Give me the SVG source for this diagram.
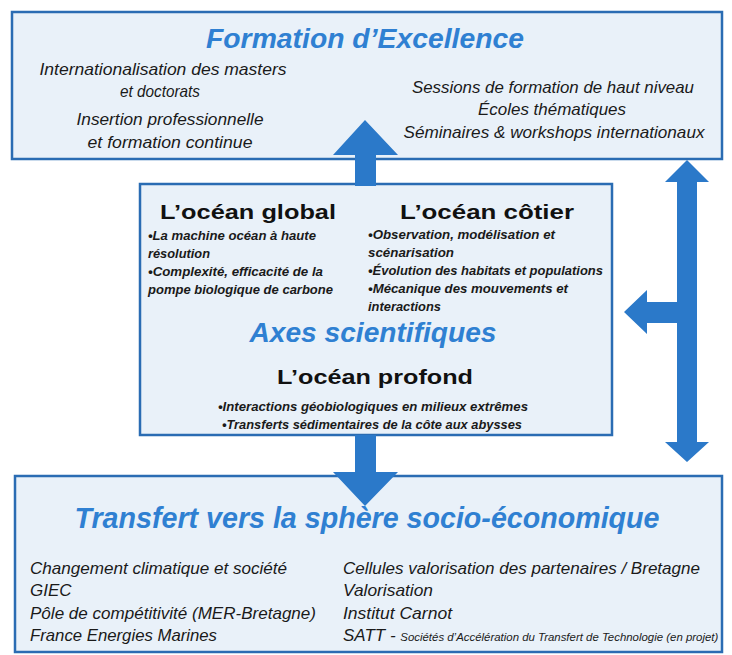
<svg xmlns="http://www.w3.org/2000/svg" width="732" height="655" viewBox="0 0 732 655">
<style>
.box{fill:#e9f1f9;stroke:#2a6cb3;stroke-width:2.5}
.arrow{fill:#2b79c9}
.title{font-family:"Liberation Sans",Arial,sans-serif;font-weight:bold;font-style:italic;fill:#2f80d2;text-anchor:middle}
.it{font-family:"Liberation Sans",Arial,sans-serif;font-style:italic;fill:#1a1a1a;font-size:17px}
.c{text-anchor:middle}
.head{font-family:"Liberation Sans",Arial,sans-serif;font-weight:bold;fill:#111;font-size:21px;text-anchor:middle}
.bul{font-family:"Liberation Sans",Arial,sans-serif;font-weight:bold;font-style:italic;fill:#1a1a1a;font-size:13px}
</style>
<rect width="732" height="655" fill="#ffffff"/>
<g id="formation">
<rect class="box" x="12" y="12" width="710" height="147"/>
<text class="title" x="365" y="48" font-size="27" textLength="318" lengthAdjust="spacingAndGlyphs">Formation d’Excellence</text>
<text class="it c" x="163" y="75" textLength="247" lengthAdjust="spacingAndGlyphs">Internationalisation des masters</text>
<text class="it c" x="160" y="97" textLength="80" lengthAdjust="spacingAndGlyphs">et doctorats</text>
<text class="it c" x="170" y="125" textLength="187" lengthAdjust="spacingAndGlyphs">Insertion professionnelle</text>
<text class="it c" x="170" y="148" textLength="165" lengthAdjust="spacingAndGlyphs">et formation continue</text>
<text class="it c" x="553" y="93" textLength="282" lengthAdjust="spacingAndGlyphs">Sessions de formation de haut niveau</text>
<text class="it c" x="552" y="115" textLength="148" lengthAdjust="spacingAndGlyphs">Écoles thématiques</text>
<text class="it c" x="554" y="138" textLength="301" lengthAdjust="spacingAndGlyphs">Séminaires &amp; workshops internationaux</text>
</g>
<g id="axes">
<rect class="box" x="140" y="184" width="472" height="251"/>
<text class="head" x="248" y="219" textLength="176" lengthAdjust="spacingAndGlyphs">L’océan global</text>
<text class="head" x="487" y="219" textLength="174" lengthAdjust="spacingAndGlyphs">L’océan côtier</text>
<text class="bul" x="148" y="240" textLength="168" lengthAdjust="spacingAndGlyphs">•La machine océan à haute</text>
<text class="bul" x="148" y="258" textLength="62" lengthAdjust="spacingAndGlyphs">résolution</text>
<text class="bul" x="148" y="276" textLength="175" lengthAdjust="spacingAndGlyphs">•Complexité, efficacité de la</text>
<text class="bul" x="148" y="294" textLength="185" lengthAdjust="spacingAndGlyphs">pompe biologique  de carbone</text>
<text class="bul" x="368" y="239" textLength="187" lengthAdjust="spacingAndGlyphs">•Observation, modélisation et</text>
<text class="bul" x="368" y="257" textLength="86" lengthAdjust="spacingAndGlyphs">scénarisation</text>
<text class="bul" x="368" y="275" textLength="235" lengthAdjust="spacingAndGlyphs">•Évolution des habitats et populations</text>
<text class="bul" x="368" y="293" textLength="200" lengthAdjust="spacingAndGlyphs">•Mécanique des mouvements et</text>
<text class="bul" x="368" y="311" textLength="73" lengthAdjust="spacingAndGlyphs">interactions</text>
<text class="title" x="373" y="342" font-size="27" textLength="247" lengthAdjust="spacingAndGlyphs">Axes scientifiques</text>
<text class="head" x="375" y="384" textLength="196" lengthAdjust="spacingAndGlyphs">L’océan profond</text>
<text class="bul c" x="373" y="411" textLength="310" lengthAdjust="spacingAndGlyphs">•Interactions géobiologiques  en milieux extrêmes</text>
<text class="bul c" x="372" y="429" textLength="300" lengthAdjust="spacingAndGlyphs">•Transferts sédimentaires de la côte aux abysses</text>
</g>
<g id="transfert">
<rect class="box" x="15" y="476" width="707" height="176"/>
<text class="title" x="367" y="528" font-size="29" textLength="585" lengthAdjust="spacingAndGlyphs">Transfert vers la sphère socio-économique</text>
<text class="it" x="30" y="574" textLength="257" lengthAdjust="spacingAndGlyphs">Changement climatique et société</text>
<text class="it" x="30" y="596">GIEC</text>
<text class="it" x="30" y="619" textLength="286" lengthAdjust="spacingAndGlyphs">Pôle de compétitivité (MER-Bretagne)</text>
<text class="it" x="30" y="641" textLength="187" lengthAdjust="spacingAndGlyphs">France Energies Marines</text>
<text class="it" x="343" y="574" textLength="357" lengthAdjust="spacingAndGlyphs">Cellules valorisation des partenaires / Bretagne</text>
<text class="it" x="343" y="596" textLength="90" lengthAdjust="spacingAndGlyphs">Valorisation</text>
<text class="it" x="343" y="619" textLength="109" lengthAdjust="spacingAndGlyphs">Institut Carnot</text>
<text class="it" x="343" y="641">SATT - <tspan font-size="10" textLength="318" lengthAdjust="spacingAndGlyphs">Sociétés d’Accélération du Transfert de Technologie (en projet)</tspan></text>
</g>
<g id="connectors">
<polygon class="arrow" points="355,186 355,155 333,155 365,120 398,155 376,155 376,186"/>
<polygon class="arrow" points="355,435 355,472 333,472 365,506 398,472 376,472 376,435"/>
<polygon class="arrow" points="687,160 709,182 697,182 697,442 709,442 687,462 665,442 677,442 677,323 647,323 647,334 624,312 647,290 647,302 677,302 677,182 665,182"/>
</g>
</svg>
